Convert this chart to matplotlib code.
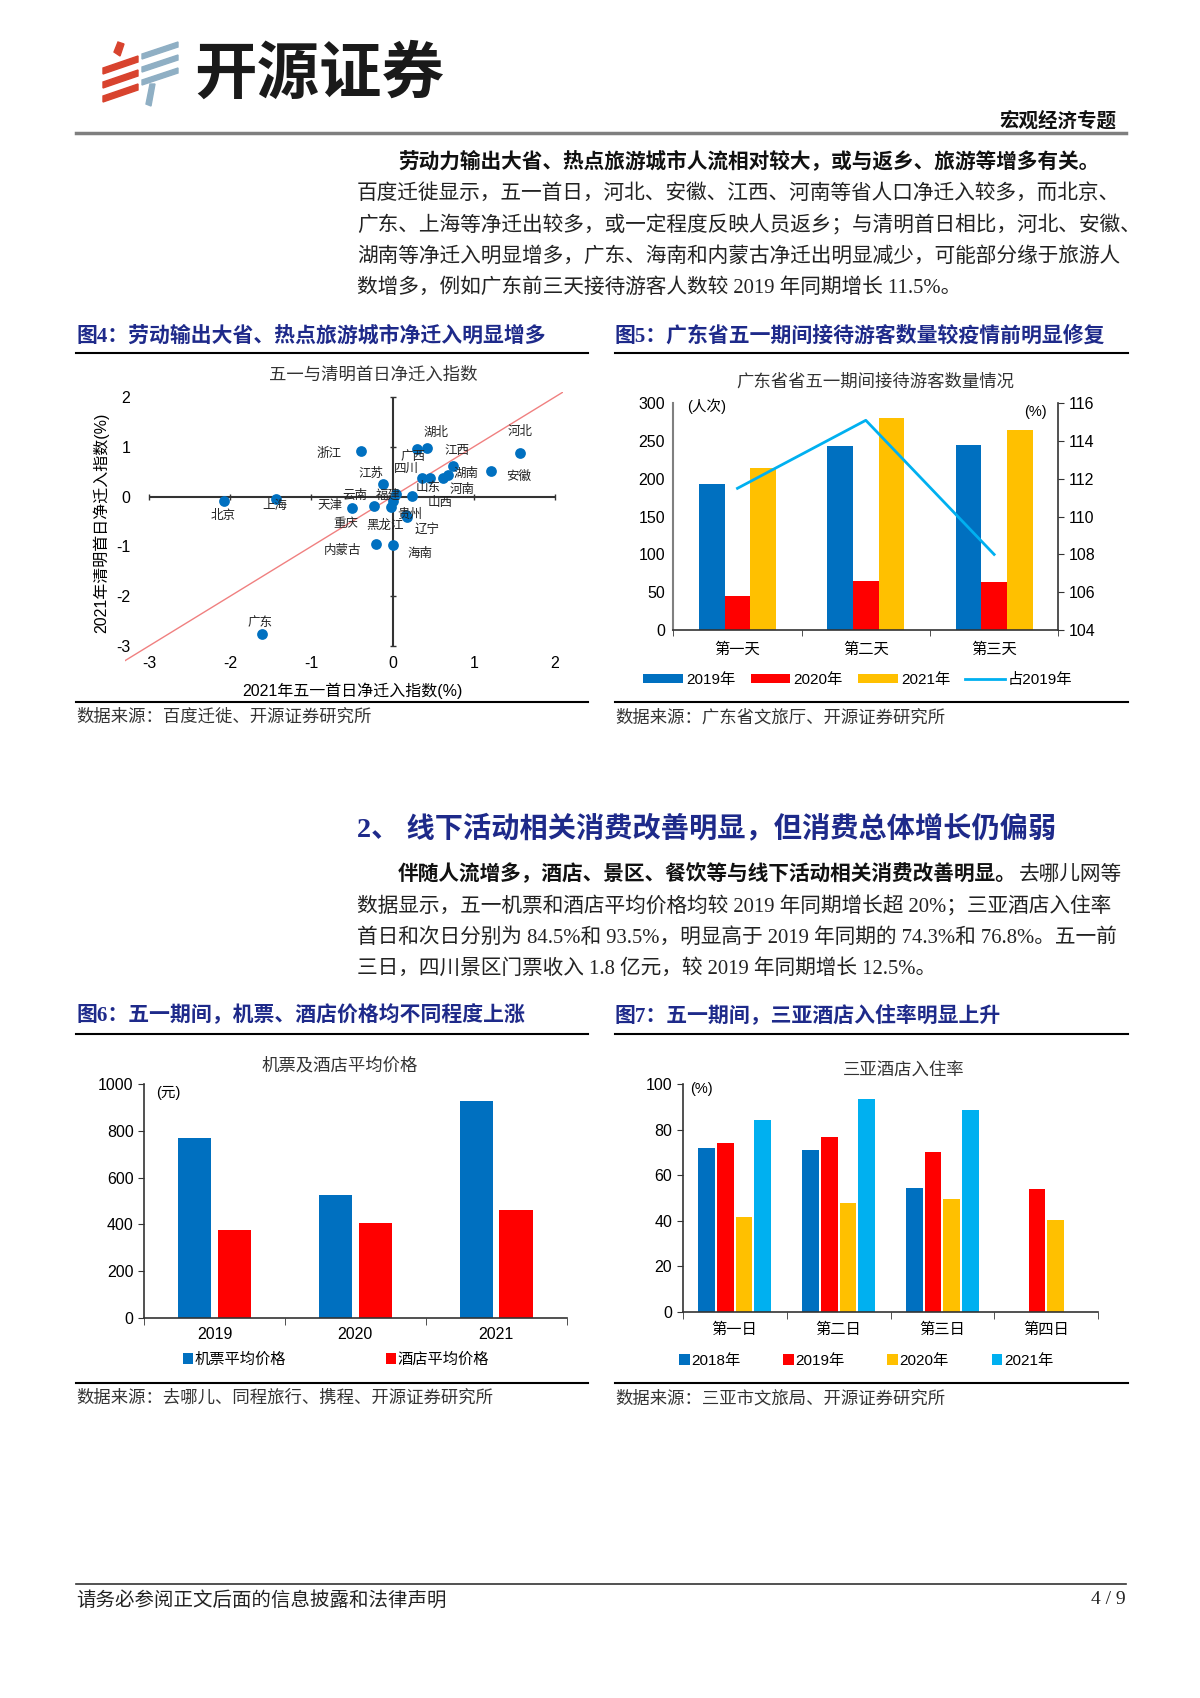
import matplotlib.pyplot as plt
import numpy as np
from matplotlib.lines import Line2D
from matplotlib.patches import Polygon

plt.rcParams['font.family'] = ['Liberation Sans', 'Noto Sans CJK SC']
plt.rcParams['axes.unicode_minus'] = False

# 图4：五一与清明首日净迁入指数
provinces = ['北京', '上海', '浙江', '湖北', '广西', '河北', '江西', '安徽', '湖南', '河南',
             '四川', '山东', '江苏', '福建', '山西', '云南', '天津', '重庆', '黑龙江', '贵州',
             '辽宁', '内蒙古', '海南', '广东']
may_day = [-2.08, -1.43, -0.39, 0.42, 0.30, 1.57, 0.75, 1.21, 0.68, 0.62,
           0.36, 0.46, -0.12, 0.04, 0.24, -0.23, -0.50, -0.02, 0.00, 0.18,
           0.16, -0.21, 0.00, -1.61]
qingming = [-0.09, -0.04, 0.92, 0.98, 0.96, 0.87, 0.61, 0.51, 0.43, 0.38,
            0.38, 0.37, 0.26, 0.05, 0.02, -0.19, -0.22, -0.20, -0.08, -0.42,
            -0.38, -0.96, -0.98, -2.75]
scatter_ticks_x = [-3, -2, -1, 0, 1, 2]
scatter_ticks_y = [-3, -2, -1, 0, 1, 2]

# 图5：广东省五一期间接待游客数量
gd_days = ['第一天', '第二天', '第三天']
gd_2019 = [193, 243, 245]
gd_2020 = [45, 65, 64]
gd_2021 = [214, 280, 265]
gd_ratio = [111.5, 115.1, 108.0]

# 图6：机票及酒店平均价格
price_years = ['2019', '2020', '2021']
air_price = [772, 525, 927]
hotel_price = [376, 407, 461]

# 图7：三亚酒店入住率
sy_days = ['第一日', '第二日', '第三日', '第四日']
occ_2018 = [71.9, 71.1, 54.5, np.nan]
occ_2019 = [74.3, 76.8, 70.4, 54.0]
occ_2020 = [41.8, 47.7, 49.6, 40.3]
occ_2021 = [84.5, 93.5, 88.7, np.nan]

# 省份标签位置（数据坐标）
label_pos = [(-2.09, -0.39), (-1.45, -0.19), (-0.78, 0.85), (0.54, 1.29), (0.25, 0.79),
             (1.57, 1.29), (0.79, 0.92), (1.55, 0.40), (0.90, 0.45), (0.85, 0.13),
             (0.17, 0.56), (0.44, 0.18), (-0.26, 0.46), (-0.05, 0.03), (0.58, -0.13),
             (-0.46, 0.01), (-0.77, -0.19), (-0.57, -0.56), (-0.09, -0.59), (0.21, -0.36),
             (0.42, -0.66), (-0.62, -1.09), (0.34, -1.16), (-1.63, -2.53)]

BLUE = '#0070C0'
RED = '#FF0000'
YELLOW = '#FFC000'
SKY = '#00B0F0'
NAVY = '#1E2A8A'
W, H = 1200, 1698

fig = plt.figure(figsize=(12, 16.98), dpi=100)


def fx(px):
    return px / W


def fy(py):
    return 1 - py / H


def axes_at(left, top, right, bottom):
    return fig.add_axes([fx(left), fy(bottom), (right - left) / W, (bottom - top) / H])


def hline(x0, x1, y, color='black', lw=1.5):
    fig.add_artist(Line2D([fx(x0), fx(x1)], [fy(y), fy(y)], color=color, lw=lw))


serif = ['Liberation Serif', 'Noto Sans CJK SC']
fs_tick = 11.5
fs_cat = 11
fs_leg = 11
fs_ctitle = 12.5
fs_src = 12.5

# ---------- 页眉 ----------
red_c, blue_c = '#D8432E', '#8FAFC4'
for y0 in [66, 80, 94]:
    fig.add_artist(Polygon([(fx(103), fy(y0 + 8)), (fx(103), fy(y0 + 2)), (fx(138), fy(y0 - 10)), (fx(138), fy(y0 - 4))],
                           closed=True, color=red_c, transform=fig.transFigure))
fig.add_artist(Polygon([(fx(114), fy(52)), (fx(118), fy(42)), (fx(124), fy(44)), (fx(120), fy(56))],
                       closed=True, color=red_c, transform=fig.transFigure))
for y0 in [52, 65, 78]:
    fig.add_artist(Polygon([(fx(142), fy(y0 + 7)), (fx(142), fy(y0 + 2)), (fx(178), fy(y0 - 10)), (fx(178), fy(y0 - 5))],
                           closed=True, color=blue_c, transform=fig.transFigure))
fig.add_artist(Polygon([(fx(150), fy(84)), (fx(155), fy(84)), (fx(151), fy(106)), (fx(146), fy(104))],
                       closed=True, color=blue_c, transform=fig.transFigure))
fig.text(fx(194), fy(74), '开源证券', fontsize=45, fontweight='bold', color='#1a1a1a',
         family='Noto Sans CJK SC', va='center', ha='left')
fig.text(fx(1116), fy(121), '宏观经济专题', fontsize=14, fontweight='bold', color='#111111',
         family='Noto Sans CJK SC', va='center', ha='right')
hline(76, 1126, 133, color='#7f7f7f', lw=2.5)

# ---------- 正文1 ----------
fs_body = 14.9
fig.text(fx(398), fy(162), '劳动力输出大省、热点旅游城市人流相对较大，或与返乡、旅游等增多有关。',
         fontsize=fs_body, fontweight='bold', family=serif, va='center', color='#111111')
para1 = ['百度迁徙显示，五一首日，河北、安徽、江西、河南等省人口净迁入较多，而北京、',
         '广东、上海等净迁出较多，或一定程度反映人员返乡；与清明首日相比，河北、安徽、',
         '湖南等净迁入明显增多，广东、海南和内蒙古净迁出明显减少，可能部分缘于旅游人',
         '数增多，例如广东前三天接待游客人数较 2019 年同期增长 11.5%。']
for i, line in enumerate(para1):
    fig.text(fx(357), fy(194 + i * 31.4), line, fontsize=fs_body, family=serif, va='center', color='#222222')

# ---------- 图4/图5 标题 ----------
fig.text(fx(76), fy(336), '图4：劳动输出大省、热点旅游城市净迁入明显增多', fontsize=15,
         fontweight='bold', color=NAVY, family=serif, va='center')
fig.text(fx(615), fy(336), '图5：广东省五一期间接待游客数量较疫情前明显修复', fontsize=15,
         fontweight='bold', color=NAVY, family=serif, va='center')
hline(76, 588, 353)
hline(615, 1128, 353)
hline(76, 588, 702)
hline(615, 1128, 702)
fig.text(fx(76), fy(718), '数据来源：百度迁徙、开源证券研究所', fontsize=fs_src, family=serif, va='center', color='#333333')
fig.text(fx(615), fy(718), '数据来源：广东省文旅厅、开源证券研究所', fontsize=fs_src, family=serif, va='center', color='#333333')

# ---------- 图4 散点 ----------
ax1 = axes_at(124.6, 392, 563.1, 663.4)
ax1.set_xlim(-3.3, 2.1)
ax1.set_ylim(-3.35, 2.1)
for s in ax1.spines.values():
    s.set_visible(False)
ax1.axline((0, 0), slope=1, color='#F08080', lw=1, zorder=1)
ax1.hlines(0, scatter_ticks_x[0], scatter_ticks_x[-1], color='#333333', lw=1.5, zorder=2)
ax1.vlines(0, scatter_ticks_y[0], scatter_ticks_y[-1], color='#333333', lw=1.5, zorder=2)
ax1.plot(scatter_ticks_x, np.zeros(len(scatter_ticks_x)), ls='none', marker='|', ms=5, color='#333333', zorder=2)
ax1.plot(np.zeros(len(scatter_ticks_y)), scatter_ticks_y, ls='none', marker='_', ms=5, color='#333333', zorder=2)
ax1.scatter(may_day, qingming, s=60, color=BLUE, zorder=3, linewidths=0)
for name, (lx, ly) in zip(provinces, label_pos):
    ax1.text(lx, ly, name, fontsize=9, ha='center', va='center', color='#222222', zorder=4)
ax1.set_xticks(scatter_ticks_x)
ax1.set_yticks(scatter_ticks_y)
ax1.tick_params(length=0, labelsize=fs_tick)
ax1.tick_params(axis='y', pad=-4)
ax1.tick_params(axis='x', pad=-5)
ax1.set_xlabel('2021年五一首日净迁入指数(%)', fontsize=11.5)
ax1.xaxis.set_label_coords(0.519, -0.072)
ax1.set_ylabel('2021年清明首日净迁入指数(%)', fontsize=11.5)
ax1.yaxis.set_label_coords(-0.035, 0.517)
ax1.text(0.566, 1.063, '五一与清明首日净迁入指数', transform=ax1.transAxes, ha='center', va='center',
         fontsize=fs_ctitle, color='#333333')

# ---------- 图5 柱+线 ----------
ax2 = axes_at(673.3, 403.3, 1058.3, 630)
x = np.arange(len(gd_days))
bw = 0.2
b1 = ax2.bar(x - bw, gd_2019, bw, color=BLUE, label='2019年')
b2 = ax2.bar(x, gd_2020, bw, color=RED, label='2020年')
b3 = ax2.bar(x + bw, gd_2021, bw, color=YELLOW, label='2021年')
ax2.set_xlim(-0.5, len(gd_days) - 0.5)
ax2.set_ylim(0, 300)
ax2.set_yticks(range(0, 301, 50))
ax2.set_xticks(x)
ax2.set_xticklabels(gd_days, fontsize=fs_cat)
ax2.set_xticks(np.arange(-0.5, len(gd_days)), minor=True)
ax2.tick_params(axis='x', which='major', length=0, pad=9)
ax2.tick_params(axis='x', which='minor', length=4, color='#333333')
ax2.tick_params(axis='y', length=0, labelsize=fs_tick, pad=6)
ax2.spines['top'].set_visible(False)
ax2.spines['right'].set_visible(False)
ax2.spines['left'].set_color('#808080')
ax2.spines['left'].set_linewidth(1.5)
ax2.spines['bottom'].set_color('#333333')
ax2.spines['bottom'].set_linewidth(1.2)
ax2b = ax2.twinx()
l1, = ax2b.plot(x, gd_ratio, color=SKY, lw=2, label='占2019年')
ax2b.set_ylim(104, 116)
ax2b.set_yticks(range(104, 117, 2))
ax2b.tick_params(axis='y', length=4, labelsize=fs_tick, color='#333333')
for k in ['top', 'left', 'bottom']:
    ax2b.spines[k].set_visible(False)
ax2b.spines['right'].set_color('#333333')
ax2b.spines['right'].set_linewidth(1.2)
ax2.text(0.087, 0.985, '(人次)', transform=ax2.transAxes, ha='center', va='center', fontsize=10.5)
ax2.text(0.94, 0.963, '(%)', transform=ax2.transAxes, ha='center', va='center', fontsize=10.5)
ax2.text(0.524, 1.095, '广东省省五一期间接待游客数量情况', transform=ax2.transAxes, ha='center',
         va='center', fontsize=fs_ctitle, color='#333333')
fig.legend(handles=[b1, b2, b3, l1], loc='center', bbox_to_anchor=(fx(858), fy(680)), ncol=4,
           frameon=False, fontsize=fs_leg, handlelength=2.6, handleheight=0.6, handletextpad=0.2,
           columnspacing=1.0)

# ---------- 第二部分 ----------
fig.text(fx(357), fy(828), '2、 线下活动相关消费改善明显，但消费总体增长仍偏弱', fontsize=20.3,
         fontweight='bold', color=NAVY, family=serif, va='center')
bold_part = '伴随人流增多，酒店、景区、餐饮等与线下活动相关消费改善明显。'
fig.text(fx(398), fy(875), bold_part, fontsize=fs_body, fontweight='bold', family=serif,
         va='center', color='#111111')
fig.text(fx(398 + len(bold_part) * fs_body * 100 / 72), fy(875), '去哪儿网等', fontsize=fs_body,
         family=serif, va='center', color='#222222')
para2 = ['数据显示，五一机票和酒店平均价格均较 2019 年同期增长超 20%；三亚酒店入住率',
         '首日和次日分别为 84.5%和 93.5%，明显高于 2019 年同期的 74.3%和 76.8%。五一前',
         '三日，四川景区门票收入 1.8 亿元，较 2019 年同期增长 12.5%。']
for i, line in enumerate(para2):
    fig.text(fx(357), fy(906.5 + i * 31.4), line, fontsize=fs_body, family=serif, va='center', color='#222222')

fig.text(fx(76), fy(1016), '图6：五一期间，机票、酒店价格均不同程度上涨', fontsize=15,
         fontweight='bold', color=NAVY, family=serif, va='center')
fig.text(fx(615), fy(1016), '图7：五一期间，三亚酒店入住率明显上升', fontsize=15,
         fontweight='bold', color=NAVY, family=serif, va='center')
hline(76, 588, 1034)
hline(615, 1128, 1034)
hline(76, 588, 1383)
hline(615, 1128, 1383)
fig.text(fx(76), fy(1399), '数据来源：去哪儿、同程旅行、携程、开源证券研究所', fontsize=fs_src, family=serif,
         va='center', color='#333333')
fig.text(fx(615), fy(1399), '数据来源：三亚市文旅局、开源证券研究所', fontsize=fs_src, family=serif,
         va='center', color='#333333')

# ---------- 图6 ----------
ax3 = axes_at(144, 1084.3, 566.7, 1317.7)
x3 = np.arange(len(price_years))
c1 = ax3.bar(x3 - 0.14, air_price, 0.235, color=BLUE, label='机票平均价格')
c2 = ax3.bar(x3 + 0.14, hotel_price, 0.235, color=RED, label='酒店平均价格')
ax3.set_xlim(-0.5, len(price_years) - 0.5)
ax3.set_ylim(0, 1000)
ax3.set_yticks(range(0, 1001, 200))
ax3.set_xticks(x3)
ax3.set_xticklabels(price_years, fontsize=fs_tick)
ax3.set_xticks(np.arange(-0.5, len(price_years)), minor=True)
ax3.tick_params(axis='x', which='major', length=0, pad=7)
ax3.tick_params(axis='x', which='minor', length=5, color='#333333')
ax3.tick_params(axis='y', length=4, labelsize=fs_tick, color='#333333')
ax3.spines['top'].set_visible(False)
ax3.spines['right'].set_visible(False)
for k in ['left', 'bottom']:
    ax3.spines[k].set_color('#333333')
    ax3.spines[k].set_linewidth(1.2)
ax3.text(0.057, 0.961, '(元)', transform=ax3.transAxes, ha='center', va='center', fontsize=10.5)
ax3.text(0.464, 1.083, '机票及酒店平均价格', transform=ax3.transAxes, ha='center', va='center',
         fontsize=fs_ctitle, color='#333333')
fig.legend(handles=[c1, c2], loc='center', bbox_to_anchor=(fx(336), fy(1360)), ncol=2,
           frameon=False, fontsize=fs_leg, handlelength=0.7, handleheight=0.7, handletextpad=0.1,
           columnspacing=6.5)

# ---------- 图7 ----------
ax4 = axes_at(682.7, 1084.3, 1098.3, 1311.7)
x4 = np.arange(len(sy_days))
pitch, bw4 = 0.18, 0.16
series7 = [(occ_2018, BLUE, '2018年'), (occ_2019, RED, '2019年'),
           (occ_2020, YELLOW, '2020年'), (occ_2021, SKY, '2021年')]
handles7 = []
for j, (vals, col, lab) in enumerate(series7):
    handles7.append(ax4.bar(x4 + (j - 1.5) * pitch, vals, bw4, color=col, label=lab))
ax4.set_xlim(-0.5, len(sy_days) - 0.5)
ax4.set_ylim(0, 100)
ax4.set_yticks(range(0, 101, 20))
ax4.set_xticks(x4)
ax4.set_xticklabels(sy_days, fontsize=fs_cat)
ax4.set_xticks(np.arange(-0.5, len(sy_days)), minor=True)
ax4.tick_params(axis='x', which='major', length=0, pad=8)
ax4.tick_params(axis='x', which='minor', length=5, color='#333333')
ax4.tick_params(axis='y', length=4, labelsize=fs_tick, color='#333333')
ax4.spines['top'].set_visible(False)
ax4.spines['right'].set_visible(False)
for k in ['left', 'bottom']:
    ax4.spines[k].set_color('#333333')
    ax4.spines[k].set_linewidth(1.2)
ax4.text(0.045, 0.978, '(%)', transform=ax4.transAxes, ha='center', va='center', fontsize=10.5)
ax4.text(0.531, 1.064, '三亚酒店入住率', transform=ax4.transAxes, ha='center', va='center',
         fontsize=fs_ctitle, color='#333333')
fig.legend(handles=handles7, loc='center', bbox_to_anchor=(fx(866), fy(1361)), ncol=4,
           frameon=False, fontsize=fs_leg, handlelength=0.7, handleheight=0.7, handletextpad=0.1,
           columnspacing=2.8)

# ---------- 页脚 ----------
hline(76, 1126, 1584, color='#333333', lw=1.2)
fig.text(fx(76), fy(1600), '请务必参阅正文后面的信息披露和法律声明', fontsize=14, family=serif,
         va='center', color='#222222')
fig.text(fx(1126), fy(1600), '4 / 9', fontsize=14, family=serif, va='center', ha='right', color='#222222')

fig.savefig('out.png', dpi=100)
